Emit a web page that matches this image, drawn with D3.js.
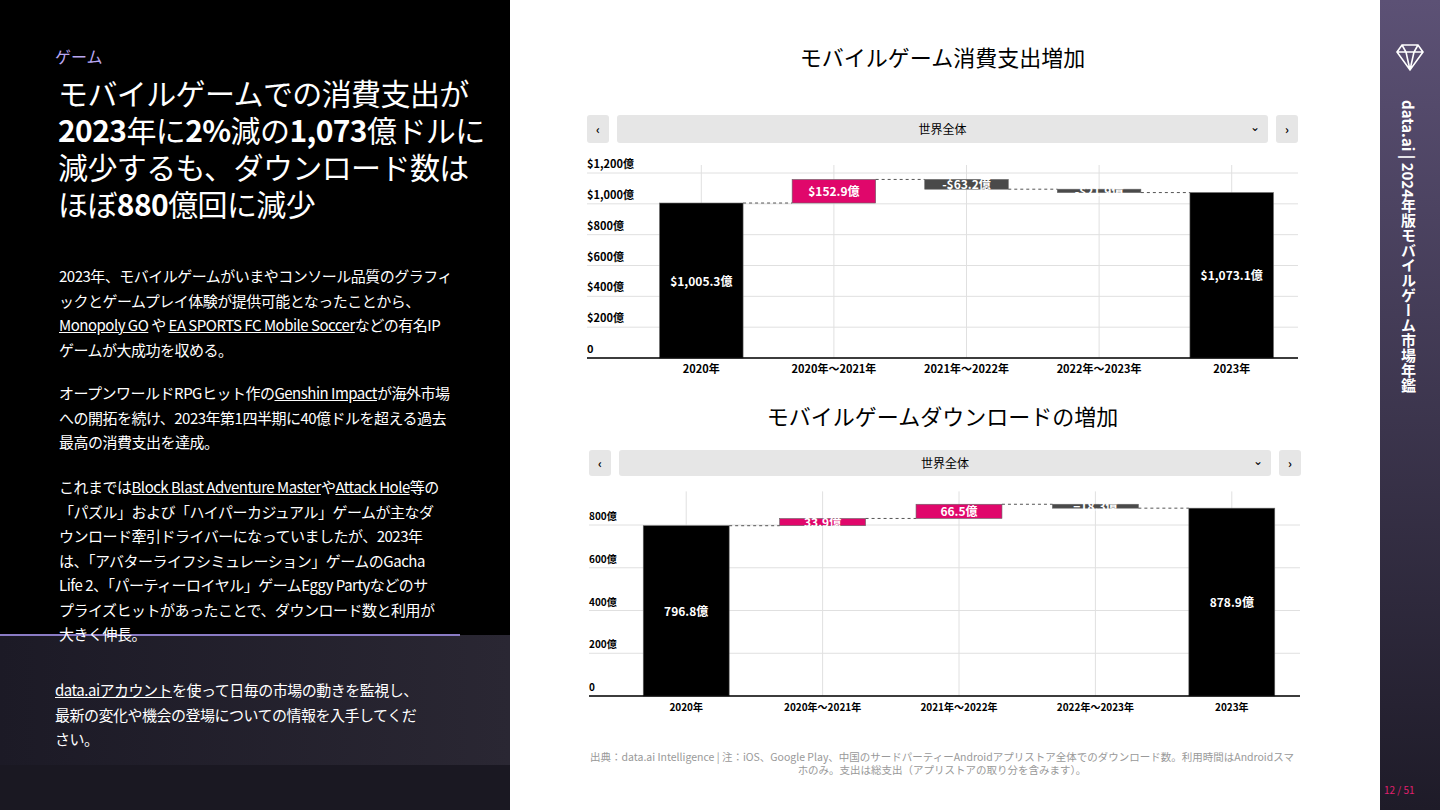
<!DOCTYPE html>
<html><head><meta charset="utf-8">
<script src="https://cdn.jsdelivr.net/npm/d3@7"></script>
<style>
body{margin:0;width:1440px;height:810px;overflow:hidden;font-family:"Noto Sans CJK JP","Noto Sans",sans-serif;background:#fff;position:relative}
#left{position:absolute;left:0;top:0;width:510px;height:810px;background:#000;color:#fff}
#left .bot{position:absolute;left:0;top:635px;width:510px;height:175px;background:linear-gradient(90deg,#1c1a26,#2a2733)}
#left .foot{position:absolute;left:0;top:765px;width:510px;height:45px;background:#1a1822}
#left .line{position:absolute;left:0;top:634px;width:460px;height:2px;background:#8a7bc4}
.tag{position:absolute;left:55px;top:44px;font-size:16px;color:#b9a7f2}
h1{position:absolute;left:58px;top:74px;margin:0;font-size:30px;line-height:37px;font-weight:400;width:430px;letter-spacing:-0.6px}
h1 b{font-weight:700}
.p{position:absolute;left:59px;font-size:15px;line-height:24.5px;width:428px;letter-spacing:-0.5px}
u{text-decoration:underline}
#side{position:absolute;left:1380px;top:0;width:60px;height:810px;background:linear-gradient(180deg,#5c5175,#1e1b28)}
#side .v{position:absolute;left:18px;top:100px;writing-mode:vertical-rl;color:#fff;font-weight:700;font-size:15px}
#side .pg{position:absolute;left:4px;top:782px;color:#e0206e;font-size:10px}
.dd{position:absolute;background:#e6e6e6;border-radius:3px;font-size:12px;text-align:center;color:#000}
</style></head><body>
<div id="left">
<div class="bot"></div><div class="foot"></div><div class="line"></div>
<div class="tag">ゲーム</div>
<h1>モバイルゲームでの消費支出が<br><b>2023</b>年に<b>2%</b>減の<b>1,073</b>億ドルに<br>減少するも、ダウンロード数は<br>ほぼ<b>880</b>億回に減少</h1>
<div class="p" style="top:264px">2023年、モバイルゲームがいまやコンソール品質のグラフィ<br>ックとゲームプレイ体験が提供可能となったことから、<br><u>Monopoly GO</u> や <u>EA SPORTS FC Mobile Soccer</u>などの有名IP<br>ゲームが大成功を収める。</div>
<div class="p" style="top:381px">オープンワールドRPGヒット作の<u>Genshin Impact</u>が海外市場<br>への開拓を続け、2023年第1四半期に40億ドルを超える過去<br>最高の消費支出を達成。</div>
<div class="p" style="top:475px">これまでは<u>Block Blast Adventure Master</u>や<u>Attack Hole</u>等の<br>「パズル」および「ハイパーカジュアル」ゲームが主なダ<br>ウンロード牽引ドライバーになっていましたが、2023年<br>は、「アバターライフシミュレーション」ゲームのGacha<br>Life 2、「パーティーロイヤル」ゲームEggy Partyなどのサ<br>プライズヒットがあったことで、ダウンロード数と利用が<br>大きく伸長。</div>
<div class="p" style="top:678px;left:55px;width:420px"><u>data.aiアカウント</u>を使って日毎の市場の動きを監視し、<br>最新の変化や機会の登場についての情報を入手してくだ<br>さい。</div>
</div>
<div id="side"><svg width="60" height="60" style="position:absolute;left:0;top:30px"><path d="M17 22 L22 15 L38 15 L43 22 L30 40 Z M17 22 L43 22 M22 15 L26 22 L30 40 L34 22 L38 15" fill="none" stroke="#fff" stroke-width="1.6"/></svg>
<div class="v">data.ai | 2024年版モバイルゲーム市場年鑑</div><div class="pg">12 / 51</div></div>
<svg id="chart" width="1380" height="810" style="position:absolute;left:0;top:0"></svg>
<script>
const steps = ["2020年", "2020年～2021年", "2021年～2022年", "2022年～2023年", "2023年"];
const spendValues = [1005.3, 152.9, -63.2, -21.9, 1073.1];
const spendTicks = [0, 200, 400, 600, 800, 1000, 1200];
const dlValues = [796.8, 33.9, 66.5, -18.3, 878.9];
const dlTicks = [0, 200, 400, 600, 800];

const svg = d3.select("#chart");

function dropdown(x, y, w, h) {
  const d = [[x, 22, "‹"], [x + 30, w - 60, "世界全体"], [x + w - 22, 22, "›"]];
  d.forEach(([l, ww, t], i) => {
    d3.select("body").append("div").attr("class", "dd")
      .style("left", l + "px").style("top", y + "px").style("width", ww + "px")
      .style("height", h + "px").style("line-height", h + "px")
      .style("font-weight", i == 1 ? 400 : 700).text(t);
  });
  d3.select("body").append("div").style("position", "absolute")
    .style("left", (x + w - 48) + "px").style("top", (y - 3) + "px").style("font-size", "12px")
    .style("line-height", h + "px").text("⌄");
}

function waterfall(o) {
  const g = svg.append("g");
  const x = d3.scaleBand().domain(steps).range([o.x0, o.x1]).paddingInner(0.37).paddingOuter(0.185);
  const y = d3.scaleLinear().domain([0, o.max]).range([o.base, o.top]);
  g.append("text").attr("x", (587 + 1298) / 2).attr("y", o.titleY).attr("text-anchor", "middle")
    .attr("font-size", 22).text(o.title);
  o.ticks.forEach(t => {
    g.append("line").attr("x1", o.gx0).attr("x2", o.x1).attr("y1", y(t)).attr("y2", y(t)).attr("stroke", "#e0e0e0");
    g.append("text").attr("x", o.gx0).attr("y", y(t) - 5).attr("font-size", o.fs).attr("font-weight", 700).text(o.fmt(t));
  });
  steps.forEach(s => g.append("line").attr("x1", x(s) + x.bandwidth() / 2).attr("x2", x(s) + x.bandwidth() / 2)
    .attr("y1", o.top - 8).attr("y2", o.base).attr("stroke", "#e0e0e0"));
  let run = 0;
  const bars = o.values.map((v, i) => {
    let lo, hi, c;
    if (i == 0 || i == o.values.length - 1) { lo = 0; hi = v; run = v; c = "#000"; }
    else { lo = Math.min(run, run + v); hi = Math.max(run, run + v); run += v; c = v > 0 ? "#e0076b" : "#4a4a4a"; }
    return { s: steps[i], v, lo, hi, c, end: run, total: i == 0 || i == o.values.length - 1 };
  });
  bars.forEach((b, i) => {
    g.append("rect").attr("x", x(b.s)).attr("width", x.bandwidth()).attr("y", y(b.hi))
      .attr("height", y(b.lo) - y(b.hi)).attr("fill", b.c).attr("stroke", "#666").attr("stroke-width", 0.6);
    const ly = b.total ? (y(b.hi) + y(0)) / 2 : (y(b.hi) + y(b.lo)) / 2;
    g.append("text").attr("x", x(b.s) + x.bandwidth() / 2).attr("y", ly + 5).attr("text-anchor", "middle")
      .attr("fill", "#fff").attr("font-size", 12).attr("font-weight", 700).text(o.lab(b.v, b.total));
    if (i < bars.length - 1) {
      g.append("line").attr("x1", x(b.s) + x.bandwidth()).attr("x2", x(steps[i + 1]))
        .attr("y1", y(b.end)).attr("y2", y(b.end)).attr("stroke", "#555").attr("stroke-dasharray", "3,3");
    }
    g.append("text").attr("x", x(b.s) + x.bandwidth() / 2).attr("y", o.base + 15).attr("text-anchor", "middle")
      .attr("font-size", o.fs).attr("font-weight", 700).text(b.s);
  });
  g.append("line").attr("x1", o.gx0).attr("x2", o.x1).attr("y1", o.base).attr("y2", o.base).attr("stroke", "#000").attr("stroke-width", 1.5);
}

const usd = v => (v < 0 ? "-$" : "$") + d3.format(",.1f")(Math.abs(v)) + "億";
waterfall({ title: "モバイルゲーム消費支出増加", titleY: 66, x0: 635, x1: 1298, gx0: 587, base: 358, top: 173, max: 1200,
  ticks: spendTicks, fs: 11, fmt: t => t == 0 ? "0" : "$" + d3.format(",")(t) + "億", lab: usd, values: spendValues });
waterfall({ title: "モバイルゲームダウンロードの増加", titleY: 425, x0: 618, x1: 1300, gx0: 589, base: 696, top: 525 - 42.7 * 0.6, max: 920,
  ticks: dlTicks, fs: 10, fmt: t => t == 0 ? "0" : t + "億", lab: v => d3.format(".1f")(v) + "億", values: dlValues });

dropdown(587, 115, 711, 28);
dropdown(589, 450, 712, 26);

svg.append("text").attr("x", 942).attr("y", 761).attr("text-anchor", "middle").attr("font-size", 10.5).attr("fill", "#999")
  .text("出典：data.ai Intelligence | 注：iOS、Google Play、中国のサードパーティーAndroidアプリストア全体でのダウンロード数。利用時間はAndroidスマ");
svg.append("text").attr("x", 942).attr("y", 774).attr("text-anchor", "middle").attr("font-size", 10.5).attr("fill", "#999")
  .text("ホのみ。支出は総支出（アプリストアの取り分を含みます）。");
</script>
</body></html>
